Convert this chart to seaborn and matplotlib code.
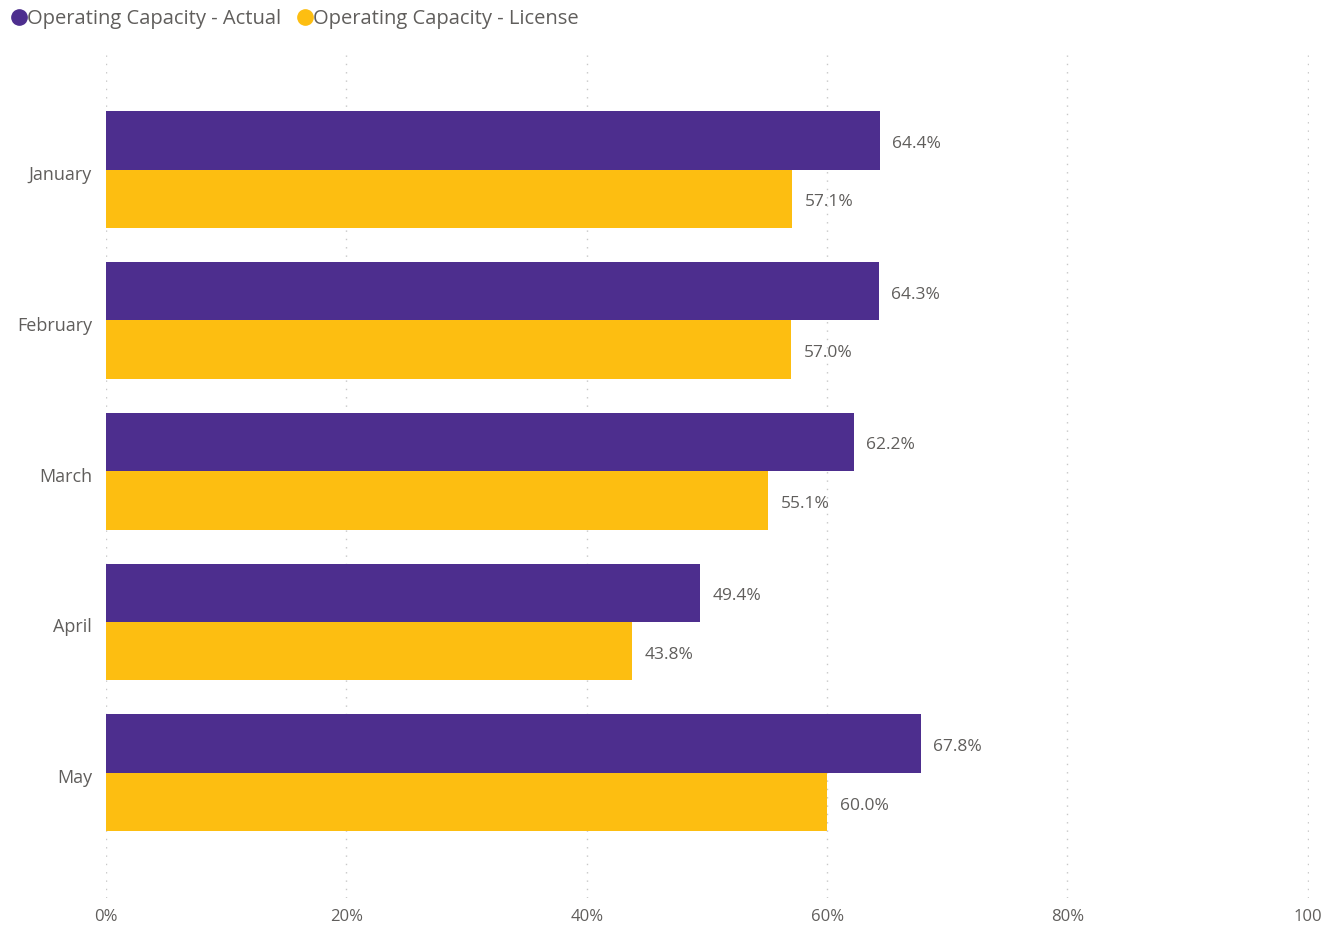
import matplotlib
matplotlib.use("Agg")
import matplotlib.pyplot as plt
import matplotlib.transforms as mtransforms
from matplotlib.lines import Line2D
import seaborn as sns
import pandas as pd

months = ["January", "February", "March", "April", "May"]
actual = [64.4, 64.3, 62.2, 49.4, 67.8]
license_ = [57.1, 57.0, 55.1, 43.8, 60.0]
series_names = ["Operating Capacity - Actual", "Operating Capacity - License"]
x_ticks = [0, 20, 40, 60, 80, 100]
x_tick_labels = ["0%", "20%", "40%", "60%", "80%", "100"]

purple = "#4D2E8E"
gold = "#FDBE11"
text_grey = "#605E5C"

df = pd.DataFrame({
    "Month": months * 2,
    "Value": actual + license_,
    "Series": [series_names[0]] * len(months) + [series_names[1]] * len(months),
})

sns.set_theme(style="white")
plt.rcParams["font.family"] = ["Open Sans", "DejaVu Sans"]

fig = plt.figure(figsize=(13.34, 9.27), dpi=100)
ax = fig.add_axes([106 / 1334, 1 - 898 / 927, (1309 - 106) / 1334, (898 - 55) / 927])

sns.barplot(
    data=df, y="Month", x="Value", hue="Series", orient="h",
    palette=[purple, gold], width=0.775, gap=0, dodge=True,
    ax=ax, legend=False, saturation=1, zorder=3, linewidth=0,
)

ax.set_xlim(0, 100.1)
ax.set_ylim(4 + 0.83, -0.76)

# value labels just right of each bar end
for cont in ax.containers:
    for bar, v in zip(cont.patches, cont.datavalues):
        ax.annotate(f"{v:.1f}%", xy=(bar.get_width(), bar.get_y() + bar.get_height() / 2),
                    xytext=(9, -2.5), textcoords="offset points",
                    ha="left", va="center", color=text_grey, fontsize=12.5)

ax.set_xticks(x_ticks)
ax.set_xticklabels(x_tick_labels)
ax.tick_params(axis="x", colors=text_grey, labelsize=12, length=0, pad=8)
ax.tick_params(axis="y", colors=text_grey, labelsize=13, length=0, pad=10)
shift = mtransforms.ScaledTranslation(0, -2.5 / 72, fig.dpi_scale_trans)
for lbl in ax.get_yticklabels():
    lbl.set_transform(lbl.get_transform() + shift)
ax.set_xlabel("")
ax.set_ylabel("")

ax.grid(axis="x", color="#C8C8C8", linestyle=(0, (1, 5)), linewidth=1, zorder=0)
ax.grid(axis="y", visible=False)
for s in ax.spines.values():
    s.set_visible(False)

handles = [Line2D([], [], marker="o", linestyle="", markersize=11,
                  markerfacecolor=c, markeredgecolor=c) for c in (purple, gold)]
fig.legend(handles, series_names, loc="upper left", bbox_to_anchor=(-0.004, 1.003),
           ncol=2, frameon=False, fontsize=14.5, handletextpad=-0.2,
           columnspacing=0.6, handlelength=1.2, borderaxespad=0.2,
           labelcolor=text_grey)

fig.savefig("out.png", dpi=100)
